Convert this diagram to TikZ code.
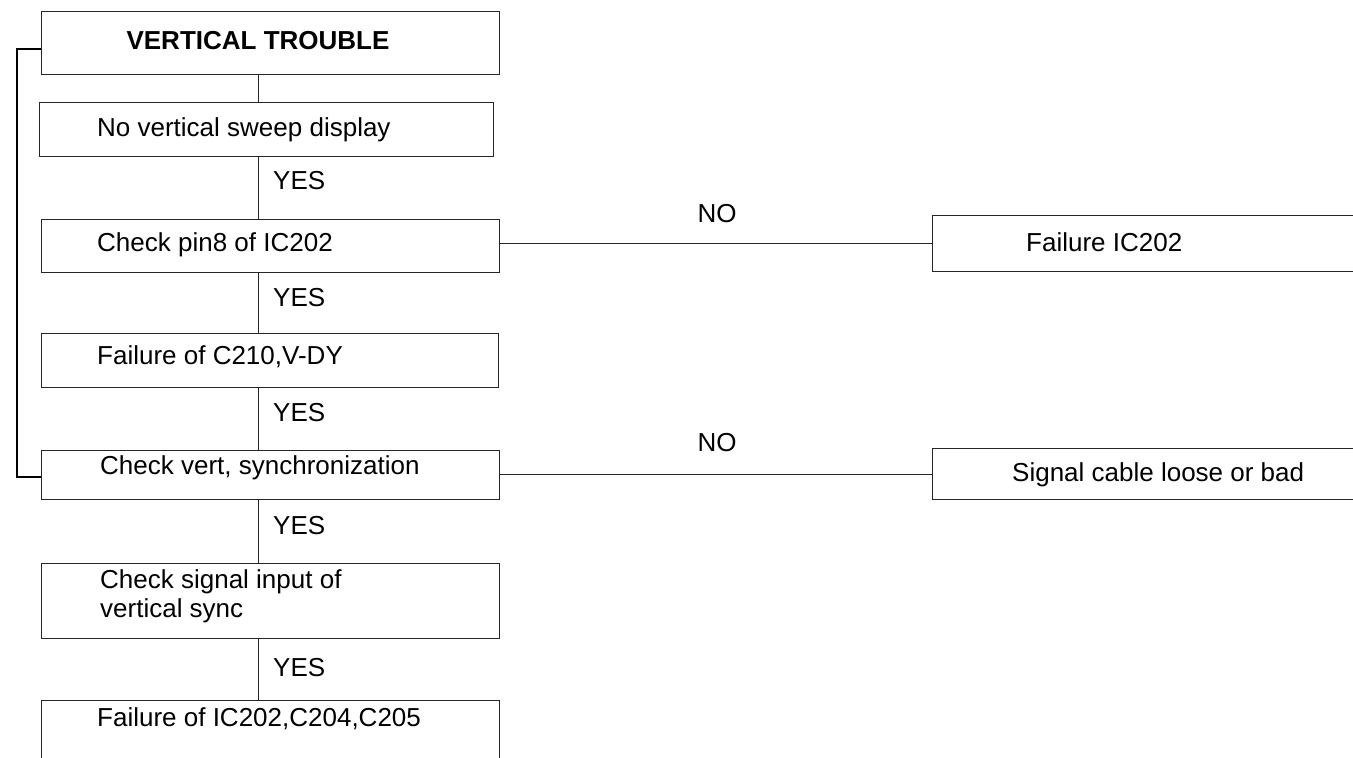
\documentclass[tikz,border=0pt]{standalone}
\usepackage{fontspec}
\setmainfont{Liberation Sans}
\begin{document}
\begin{tikzpicture}[x=1pt,y=-1pt,
  box/.style={draw=black!85,line width=1pt,rectangle,inner sep=0pt},
  conn/.style={draw=black!85,line width=0.9pt},
  brk/.style={draw=black,line width=2pt},
  txt/.style={anchor=base west,inner sep=0pt,font=\fontsize{26}{31}\selectfont},
  ctxt/.style={anchor=base,inner sep=0pt,font=\fontsize{26}{31}\selectfont}]
\useasboundingbox (0,0) rectangle (1353,758);
\clip (0,0) rectangle (1353,758);
% boxes
\node[box,minimum width=458pt,minimum height=63pt] (vt) at (270,42.5) {};
\node[box,minimum width=454pt,minimum height=54pt] (sweep) at (266,129) {};
\node[box,minimum width=458pt,minimum height=53pt] (pin) at (270,245.5) {};
\node[box,minimum width=457pt,minimum height=54pt] (c210) at (269.5,360) {};
\node[box,minimum width=458pt,minimum height=49pt] (vert) at (270,474.5) {};
\node[box,minimum width=458pt,minimum height=75pt] (sig) at (270,600.5) {};
\node[box,minimum width=458pt,minimum height=100pt] (fin) at (270,750) {};
\node[box,minimum width=488pt,minimum height=56pt] (fic) at (1176,243) {};
\node[box,minimum width=488pt,minimum height=51pt] (cab) at (1176,473.5) {};
% texts
\node[ctxt,font=\fontsize{26}{31}\selectfont\bfseries] (tvt) at (258,49) {VERTICAL TROUBLE};
\node[txt] (tsweep) at (97,136) {No vertical sweep display};
\node[txt] (tpin) at (97,251) {Check pin8 of IC202};
\node[txt] (tc210) at (97,364) {Failure of C210,V-DY};
\node[txt] (tvert) at (100,474) {Check vert, synchronization};
\node[txt] (tsig1) at (100,588) {Check signal input of};
\node[txt] (tsig2) at (100,617) {vertical sync};
\node[txt] (tfin) at (97,726) {Failure of IC202,C204,C205};
\node[txt] (tfic) at (1026,251) {Failure IC202};
\node[txt] (tcab) at (1012,481) {Signal cable loose or bad};
% labels
\node[txt] (y1) at (273,189) {YES};
\node[txt] (y2) at (273,306) {YES};
\node[txt] (y3) at (273,421) {YES};
\node[txt] (y4) at (273,534) {YES};
\node[txt] (y5) at (273,676) {YES};
\node[ctxt] (n1) at (717,222) {NO};
\node[ctxt] (n2) at (717,451) {NO};
% connectors
\coordinate (spine) at (258,0);
\draw[conn] (vt.south -| spine) -- (sweep.north -| spine);
\draw[conn] (sweep.south -| spine) -- (pin.north -| spine);
\draw[conn] (pin.south -| spine) -- (c210.north -| spine);
\draw[conn] (c210.south -| spine) -- (vert.north -| spine);
\draw[conn] (vert.south -| spine) -- (sig.north -| spine);
\draw[conn] (sig.south -| spine) -- (fin.north -| spine);
\draw[conn] (pin.east |- fic.west) -- (fic.west);
\draw[conn] (vert.east) -- (vert.east -| cab.west);
% bracket
\coordinate (bt) at (17,49);
\coordinate (bb) at (17,477);
\draw[brk] (vt.west |- bt) -- (bt) -- (bb) -- (vert.west |- bb);
\end{tikzpicture}
\end{document}
